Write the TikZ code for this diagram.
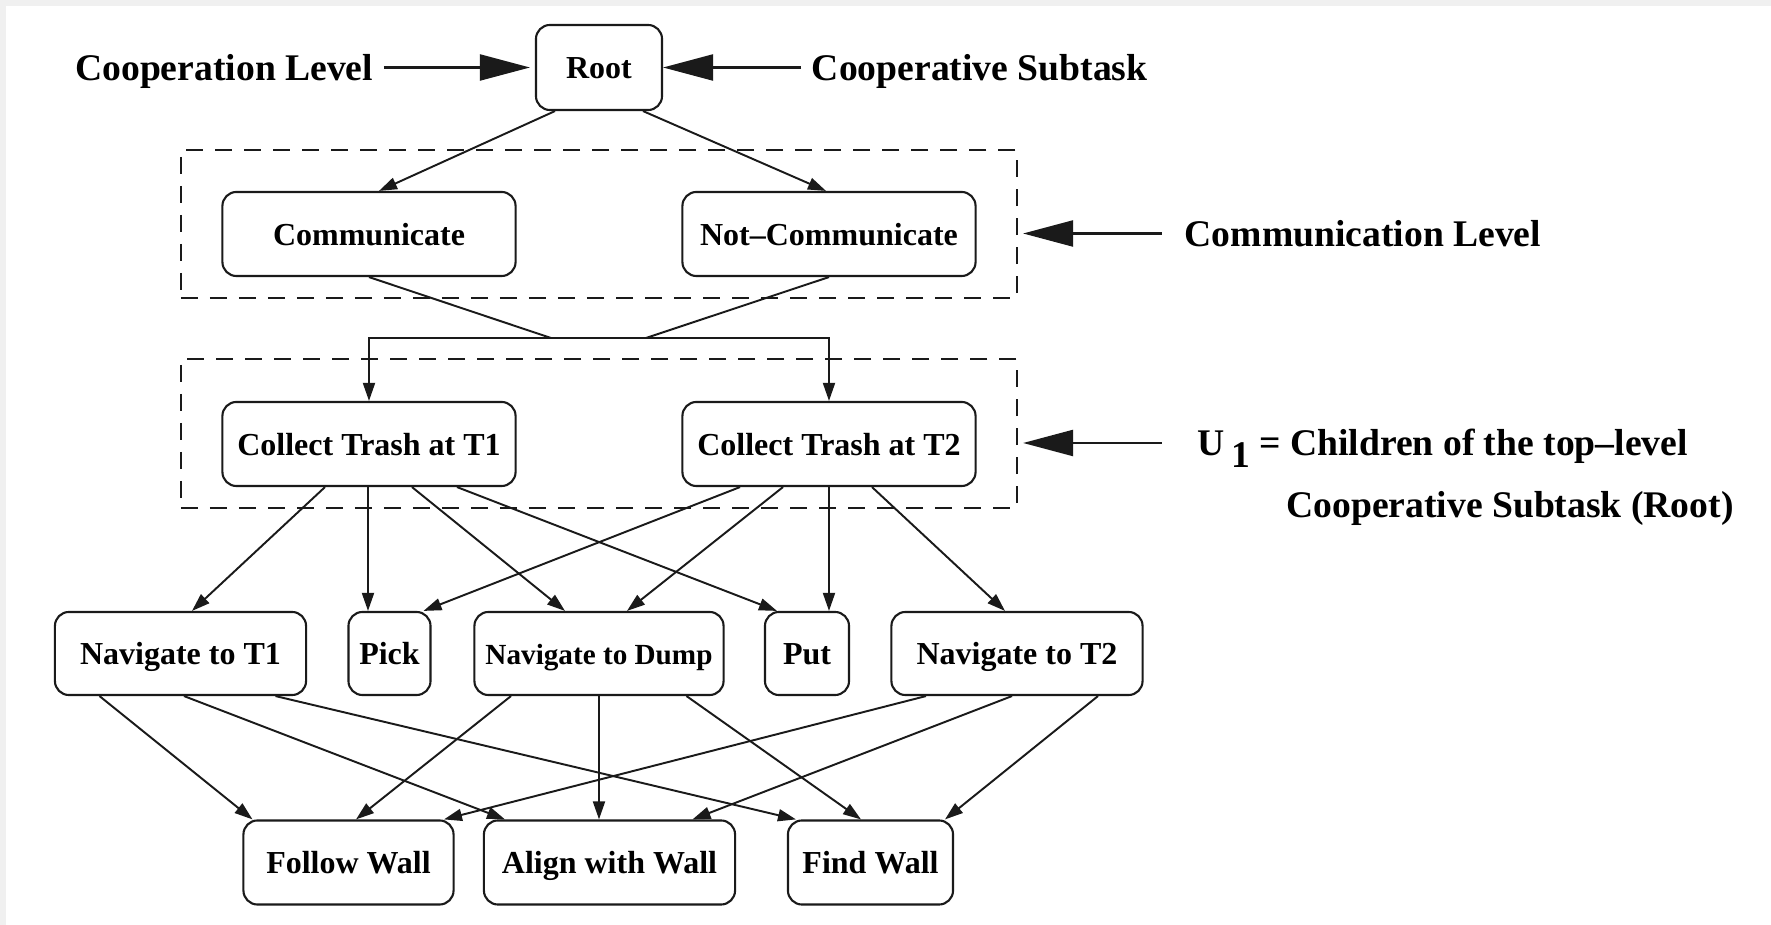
\documentclass[tikz,border=0pt]{standalone}
\usepackage{fontspec}
\setmainfont{Liberation Serif}
\usetikzlibrary{arrows.meta,positioning,calc}
\definecolor{framegray}{HTML}{F0F0F0}
\definecolor{inkblack}{HTML}{1A1A1A}
\tikzset{
  task/.style={rounded corners=0.14cm, draw=inkblack, line width=0.6pt, fill=white, align=center, minimum height=0.84cm, inner sep=0pt, text height=0.29cm, text depth=0.06cm, font=\fontsize{9.1}{11}\selectfont\bfseries},
  level/.style={draw=inkblack, line width=0.5pt, dash pattern=on 0.17cm off 0.12cm, inner sep=0pt},
  note/.style={font=\fontsize{10.7}{13}\selectfont\bfseries, inner sep=0.1cm, text height=0.30cm, text depth=0.04cm},
  link/.style={-{Triangle[length=0.18cm,width=0.12cm]}, line width=0.55pt, draw=inkblack},
  pointer/.style={-{Triangle[length=0.5cm,width=0.26cm]}, line width=0.65pt, draw=inkblack}
}

\begin{document}
\begin{tikzpicture}[x=0.01cm, y=-0.01cm]
  % frame
  \fill[framegray] (0,0) rectangle (1771,925);
  \fill[white] (6,6) rectangle (1771,925);

  % cooperation level
  \node[task, minimum width=1.26cm, minimum height=0.85cm] (root) at (599,67.5) {Root};

  % communication level
  \node[level, minimum width=8.36cm, minimum height=1.48cm] (lvlcomm) at (599,224) {};
  \node[task, minimum width=2.93cm] (comm) at (369,234) {Communicate};
  \node[task, minimum width=2.93cm] (notcomm) at (829,234) {Not--Communicate};

  % children of root
  \node[level, minimum width=8.36cm, minimum height=1.49cm] (lvlchild) at (599,433.5) {};
  \node[task, minimum width=2.93cm] (trash1) at (369,444) {Collect Trash at T1};
  \node[task, minimum width=2.93cm] (trash2) at (829,444) {Collect Trash at T2};

  % subtasks
  \node[task, minimum width=2.51cm, minimum height=0.83cm] (nav1) at (180.5,653.5) {Navigate to T1};
  \node[task, minimum width=0.82cm, minimum height=0.83cm] (pick) at (389.5,653.5) {Pick};
  \node[task, minimum width=2.49cm, minimum height=0.83cm, font=\fontsize{8.3}{10}\selectfont\bfseries] (navdump) at (599,653.5) {Navigate to Dump};
  \node[task, minimum width=0.84cm, minimum height=0.83cm] (put) at (807,653.5) {Put};
  \node[task, minimum width=2.51cm, minimum height=0.83cm] (nav2) at (1017,653.5) {Navigate to T2};

  % primitive actions
  \node[task, minimum width=2.10cm] (follow) at (348.5,862.5) {Follow Wall};
  \node[task, minimum width=2.51cm] (align) at (609.5,862.5) {Align with Wall};
  \node[task, minimum width=1.65cm] (find) at (870.5,862.5) {Find Wall};

  % side notes
  \node[note, left=1.51cm of root] (coopL) {Cooperation Level};
  \node[note, right=1.38cm of root] (coopS) {Cooperative Subtask};
  \node[note, anchor=west] (commL) at (1174,233.5) {Communication Level};
  \node[note, anchor=west] (childL) at (1187,443) {U\,\raisebox{-0.31em}{1} = Children of the top--level};
  \node[note] (childL2) at (1510,505) {Cooperative Subtask (Root)};

  \draw[pointer, shorten >=0.05cm] (coopL) -- (root);
  \draw[pointer] (coopS) -- (root);
  \draw[pointer, shorten <=0.12cm, shorten >=0.05cm] (commL.west) -- (commL.west -| lvlcomm.east);
  \draw[pointer, shorten <=0.25cm, shorten >=0.05cm] (childL.west) -- (childL.west -| lvlchild.east);

  % root to communication level
  \draw[link] ($(root.south)+(-44,0)$) -- ($(comm.north)+(10,0)$);
  \draw[link] ($(root.south)+(44,0)$) -- ($(notcomm.north)+(-3,0)$);

  % communication level to children
  \coordinate (joinl) at (551,338);
  \coordinate (joinr) at (646,338);
  \draw[line width=0.55pt, draw=inkblack] (comm.south) -- (joinl) -- (joinr) -- (notcomm.south);
  \draw[link] (joinl) -| (trash1.north);
  \draw[link] (joinr) -| (trash2.north);

  % children to subtasks
  \draw[link] ($(trash1.south)+(-44,0)$) -- ($(nav1.north)+(11.5,0)$);
  \draw[link] ($(trash1.south)+(-1,0)$) -- ($(pick.north)+(-21.5,0)$);
  \draw[link] ($(trash1.south)+(43,0)$) -- ($(navdump.north)+(-34,0)$);
  \draw[link] ($(trash1.south)+(88,0)$) -- ($(put.north)+(-30,0)$);
  \draw[link] ($(trash2.south)+(-89,0)$) -- ($(pick.north)+(34,0)$);
  \draw[link] ($(trash2.south)+(-46,0)$) -- ($(navdump.north)+(28,0)$);
  \draw[link] (trash2.south) -- (trash2.south |- put.north);
  \draw[link] ($(trash2.south)+(43,0)$) -- ($(nav2.north)+(-12,0)$);

  % subtasks to primitive actions
  \draw[link] ($(nav1.south)+(-81,0)$) -- ($(follow.north)+(-96,0)$);
  \draw[link] ($(nav1.south)+(3.5,0)$) -- ($(align.north)+(-104.5,0)$);
  \draw[link] ($(nav1.south)+(95,0)$) -- ($(find.north)+(-74.5,0)$);
  \draw[link] ($(navdump.south)+(-88,0)$) -- ($(follow.north)+(7.5,0)$);
  \draw[link] (navdump.south) -- (navdump.south |- align.north);
  \draw[link] ($(navdump.south)+(87.5,0)$) -- ($(find.north)+(-9.5,0)$);
  \draw[link] ($(nav2.south)+(-91,0)$) -- ($(follow.north)+(95.5,0)$);
  \draw[link] ($(nav2.south)+(-5,0)$) -- ($(align.north)+(83,0)$);
  \draw[link] ($(nav2.south)+(81,0)$) -- ($(find.north)+(74.5,0)$);
\end{tikzpicture}
\end{document}
